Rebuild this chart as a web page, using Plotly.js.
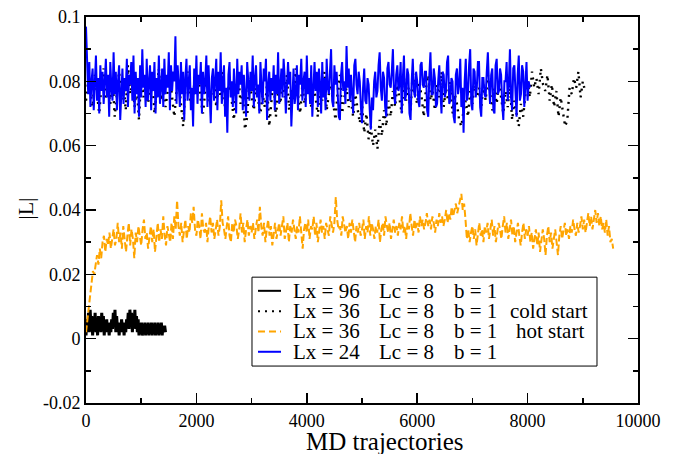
<!DOCTYPE html>
<html>
<head>
<meta charset="utf-8">
<script src="https://cdn.plot.ly/plotly-3.0.1.min.js"></script>
<style>html,body{margin:0;padding:0;background:#fff;}#chart{width:684px;height:454px;}</style>
</head>
<body>
<div id="chart"></div>
<script>
// ---- data ----
const stepLx96 = 15;
const lx96 = [
0.001,0.006,0.003,0.008,0.002,0.009,0.004,0.007,0.001,0.006,
0.003,0.008,0.002,0.005,0.001,0.007,0.003,0.006,0.002,0.008,
0.004,0.007,0.001,0.005,0.003,0.006,0.002,0.004,0.001,0.005,
0.002,0.006,0.003,0.008,0.004,0.009,0.002,0.007,0.003,0.005,
0.001,0.004,0.002,0.006,0.003,0.005,0.001,0.004,0.002,0.006,
0.004,0.008,0.003,0.009,0.005,0.008,0.002,0.007,0.004,0.009,
0.003,0.007,0.002,0.006,0.001,0.004,0.002,0.005,0.001,0.003,
0.002,0.005,0.001,0.004,0.002,0.005,0.001,0.004,0.002,0.005,
0.001,0.004,0.002,0.005,0.001,0.004,0.002,0.005,0.001,0.004,
0.002,0.005,0.001,0.004,0.002,0.004,0.002];

const stepCold = 40;
const lx36cold = [
0.074,0.080,0.077,0.072,0.082,0.076,0.070,0.079,0.084,0.075,
0.078,0.073,0.081,0.069,0.077,0.083,0.074,0.079,0.071,0.085,
0.076,0.080,0.072,0.078,0.068,0.082,0.075,0.079,0.073,0.077,
0.081,0.070,0.076,0.084,0.074,0.079,0.072,0.078,0.082,0.075,
0.069,0.077,0.080,0.073,0.066,0.078,0.083,0.075,0.071,0.079,
0.076,0.082,0.074,0.070,0.078,0.084,0.073,0.077,0.081,0.072,
0.079,0.075,0.083,0.071,0.076,0.080,0.074,0.068,0.078,0.082,
0.073,0.077,0.065,0.069,0.080,0.075,0.071,0.078,0.074,0.070,
0.076,0.072,0.079,0.066,0.074,0.081,0.069,0.077,0.073,0.080,
0.075,0.082,0.071,0.078,0.074,0.084,0.076,0.070,0.079,0.073,
0.077,0.081,0.072,0.078,0.075,0.069,0.080,0.074,0.083,0.071,
0.076,0.079,0.073,0.068,0.077,0.082,0.070,0.075,0.078,0.072,
0.074,0.069,0.076,0.071,0.067,0.073,0.064,0.070,0.062,0.066,
0.060,0.065,0.059,0.068,0.063,0.071,0.066,0.074,0.069,0.077,
0.072,0.079,0.075,0.070,0.081,0.074,0.078,0.071,0.083,0.076,
0.073,0.080,0.075,0.069,0.078,0.082,0.074,0.077,0.071,0.079,
0.075,0.083,0.072,0.078,0.074,0.080,0.070,0.076,0.073,0.068,
0.066,0.071,0.074,0.069,0.077,0.073,0.080,0.075,0.078,0.072,
0.079,0.074,0.082,0.076,0.071,0.078,0.073,0.080,0.075,0.070,
0.077,0.072,0.079,0.068,0.074,0.070,0.066,0.073,0.069,0.076,
0.080,0.075,0.083,0.078,0.081,0.076,0.084,0.079,0.077,0.082,
0.074,0.079,0.072,0.077,0.069,0.075,0.070,0.066,0.068,0.078,
0.076,0.081,0.078,0.083,0.075,0.080,0.077];

const stepHot = 25;
const lx36hot = [
0.002,0.006,0.010,0.014,0.018,0.021,0.020,0.024,0.026,0.023,
0.028,0.025,0.030,0.032,0.027,0.031,0.029,0.033,0.028,0.031,
0.034,0.029,0.031,0.036,0.030,0.033,0.028,0.035,0.031,0.027,
0.032,0.036,0.029,0.034,0.031,0.025,0.033,0.030,0.035,0.032,
0.029,0.034,0.037,0.031,0.033,0.028,0.032,0.035,0.030,0.034,
0.027,0.032,0.036,0.030,0.034,0.031,0.038,0.032,0.029,0.035,
0.033,0.030,0.036,0.031,0.038,0.034,0.043,0.035,0.032,0.036,
0.030,0.034,0.037,0.031,0.035,0.033,0.039,0.036,0.041,0.034,
0.032,0.037,0.035,0.031,0.039,0.034,0.033,0.036,0.030,0.035,
0.038,0.033,0.036,0.031,0.034,0.037,0.032,0.035,0.043,0.036,
0.034,0.031,0.035,0.038,0.032,0.030,0.036,0.033,0.037,0.035,
0.031,0.034,0.039,0.033,0.036,0.030,0.034,0.037,0.032,0.035,
0.033,0.036,0.031,0.035,0.037,0.033,0.041,0.035,0.032,0.036,
0.030,0.034,0.037,0.032,0.035,0.029,0.033,0.036,0.031,0.034,
0.036,0.032,0.035,0.038,0.031,0.034,0.036,0.030,0.035,0.033,
0.037,0.034,0.031,0.035,0.033,0.038,0.032,0.028,0.034,0.036,
0.033,0.037,0.031,0.035,0.034,0.038,0.032,0.036,0.030,0.034,
0.037,0.033,0.035,0.031,0.036,0.034,0.032,0.038,0.035,0.033,
0.036,0.044,0.037,0.034,0.035,0.032,0.038,0.036,0.033,0.035,
0.031,0.036,0.033,0.037,0.034,0.030,0.035,0.033,0.036,0.032,
0.034,0.037,0.031,0.035,0.033,0.038,0.032,0.036,0.034,0.031,
0.035,0.033,0.037,0.030,0.034,0.036,0.032,0.038,0.035,0.033,
0.036,0.031,0.034,0.037,0.033,0.035,0.032,0.036,0.034,0.038,
0.033,0.035,0.031,0.036,0.034,0.039,0.035,0.032,0.037,0.034,
0.036,0.033,0.038,0.035,0.037,0.034,0.036,0.039,0.035,0.037,
0.034,0.038,0.036,0.033,0.037,0.035,0.039,0.036,0.038,0.035,
0.037,0.040,0.036,0.039,0.037,0.041,0.038,0.040,0.042,0.039,
0.041,0.043,0.045,0.040,0.042,0.037,0.031,0.034,0.030,0.033,
0.035,0.031,0.034,0.029,0.033,0.036,0.032,0.034,0.030,0.035,
0.033,0.036,0.031,0.034,0.037,0.032,0.035,0.030,0.033,0.036,
0.034,0.031,0.035,0.038,0.033,0.036,0.031,0.034,0.037,0.032,
0.035,0.030,0.034,0.036,0.032,0.029,0.033,0.036,0.031,0.034,
0.032,0.035,0.030,0.033,0.028,0.031,0.034,0.029,0.033,0.027,
0.030,0.034,0.031,0.026,0.032,0.035,0.030,0.033,0.028,0.031,
0.034,0.030,0.026,0.032,0.035,0.031,0.033,0.036,0.032,0.034,
0.031,0.035,0.033,0.037,0.034,0.032,0.036,0.033,0.035,0.038,
0.034,0.037,0.033,0.036,0.039,0.035,0.038,0.034,0.037,0.040,
0.036,0.039,0.035,0.038,0.034,0.036,0.033,0.037,0.032,0.035,
0.030,0.031,0.028];

const stepLx24 = 20;
const lx24 = [
0.097,0.083,0.076,0.086,0.072,0.080,0.084,0.071,0.078,0.088,
0.074,0.081,0.070,0.085,0.077,0.083,0.073,0.079,0.087,0.075,
0.082,0.069,0.086,0.078,0.074,0.089,0.076,0.083,0.071,0.080,
0.085,0.068,0.079,0.084,0.073,0.081,0.077,0.087,0.072,0.082,
0.079,0.086,0.074,0.088,0.070,0.083,0.076,0.081,0.069,0.085,
0.075,0.090,0.078,0.082,0.072,0.087,0.074,0.080,0.085,0.071,
0.083,0.077,0.086,0.070,0.081,0.075,0.088,0.073,0.079,0.084,
0.072,0.087,0.076,0.082,0.078,0.089,0.071,0.085,0.077,0.083,
0.080,0.094,0.073,0.085,0.079,0.072,0.086,0.076,0.083,0.068,
0.081,0.087,0.074,0.080,0.085,0.071,0.078,0.066,0.084,0.076,
0.088,0.073,0.082,0.079,0.086,0.070,0.083,0.076,0.080,0.088,
0.072,0.085,0.078,0.067,0.081,0.084,0.074,0.079,0.087,0.071,
0.083,0.077,0.089,0.073,0.080,0.085,0.069,0.078,0.064,0.082,
0.086,0.075,0.080,0.072,0.084,0.078,0.070,0.087,0.076,0.083,
0.079,0.085,0.071,0.082,0.076,0.069,0.086,0.080,0.074,0.083,
0.077,0.088,0.072,0.081,0.085,0.075,0.079,0.070,0.086,0.078,
0.073,0.084,0.080,0.087,0.068,0.079,0.083,0.074,0.081,0.077,
0.085,0.071,0.082,0.076,0.089,0.073,0.080,0.084,0.075,0.087,
0.081,0.070,0.078,0.086,0.079,0.083,0.066,0.077,0.084,0.073,
0.076,0.085,0.071,0.082,0.079,0.087,0.074,0.080,0.083,0.072,
0.088,0.076,0.081,0.073,0.085,0.069,0.080,0.086,0.077,0.083,
0.072,0.084,0.079,0.070,0.086,0.075,0.081,0.071,0.087,0.078,
0.076,0.083,0.090,0.074,0.072,0.085,0.079,0.083,0.075,0.069,
0.068,0.082,0.086,0.077,0.080,0.073,0.091,0.078,0.084,0.074,
0.082,0.076,0.070,0.085,0.087,0.079,0.076,0.083,0.080,0.072,
0.067,0.078,0.084,0.074,0.073,0.081,0.079,0.071,0.065,0.075,
0.071,0.080,0.083,0.075,0.077,0.085,0.089,0.078,0.074,0.083,
0.081,0.072,0.069,0.084,0.086,0.079,0.078,0.083,0.090,0.076,
0.073,0.082,0.085,0.077,0.079,0.086,0.070,0.081,0.088,0.074,
0.076,0.084,0.082,0.070,0.068,0.080,0.087,0.077,0.075,0.083,
0.080,0.074,0.072,0.085,0.086,0.079,0.078,0.083,0.083,0.071,
0.069,0.082,0.089,0.076,0.076,0.084,0.081,0.072,0.073,0.080,
0.085,0.077,0.070,0.083,0.082,0.075,0.077,0.086,0.088,0.073,
0.074,0.081,0.080,0.069,0.067,0.082,0.084,0.076,0.079,0.087,
0.072,0.078,0.064,0.080,0.087,0.074,0.076,0.085,0.090,0.073,
0.071,0.084,0.083,0.075,0.078,0.086,0.086,0.072,0.069,0.081,
0.081,0.076,0.075,0.083,0.089,0.079,0.073,0.082,0.084,0.071,
0.070,0.085,0.087,0.076,0.077,0.084,0.082,0.073,0.068,0.080,
0.080,0.086,0.074,0.079,0.090,0.075,0.071,0.084,0.085,0.077,
0.069,0.082,0.088,0.074,0.076,0.085,0.083,0.072,0.079,0.086,
0.074,0.080,0.078];

const xTickVals = [0,2000,4000,6000,8000,10000];
const xTickText = ['0','2000','4000','6000','8000','10000'];
const yTickVals = [-0.02,0,0.02,0.04,0.06,0.08,0.1];
const yTickText = ['-0.02','0','0.02','0.04','0.06','0.08','0.1'];

const legLx = ['Lx = 96','Lx = 36','Lx = 36','Lx = 24'];
const legLc = ['Lc = 8','Lc = 8','Lc = 8','Lc = 8'];
const legB  = ['b = 1','b = 1','b = 1','b = 1'];
const legNote = ['','cold start','hot start',''];

const xTitle = 'MD trajectories';
const yTitle = '|L|';

// ---- build ----
const xs = (arr, step) => arr.map((_, i) => i * step);
const FONT = 'Liberation Serif';

const styles = [
  {color:'#000000', width:3,   dash:'solid'},
  {color:'#000000', width:2.4, dash:'2px,5px'},
  {color:'#ffa500', width:2,   dash:'7px,3px'},
  {color:'#0000ff', width:2,   dash:'solid'}
];

const traces = [
  {x: xs(lx96, stepLx96), y: lx96, type:'scatter', mode:'lines', line: styles[0], showlegend:false, hoverinfo:'skip'},
  {x: xs(lx36cold, stepCold), y: lx36cold, type:'scatter', mode:'lines', line: styles[1], showlegend:false, hoverinfo:'skip'},
  {x: xs(lx36hot, stepHot), y: lx36hot, type:'scatter', mode:'lines', line: styles[2], showlegend:false, hoverinfo:'skip'},
  {x: xs(lx24, stepLx24), y: lx24, type:'scatter', mode:'lines', line: styles[3], showlegend:false, hoverinfo:'skip'}
];

// custom legend (paper coordinates)
const legRows = [0.2906, 0.2380, 0.1855, 0.1327];
const shapes = [{type:'rect', xref:'paper', yref:'paper', x0:0.3007, x1:0.9257, y0:0.0957, y1:0.326,
  fillcolor:'#ffffff', line:{color:'#000000', width:1}, layer:'above'}];
const annotations = [];
const legStyleDash = ['solid','2px,5px','7px,4px','solid'];
legRows.forEach((yy, i) => {
  shapes.push({type:'line', xref:'paper', yref:'paper', x0:0.3116, x1:0.3533, y0:yy, y1:yy,
    line:{color:styles[i].color, width:2, dash:legStyleDash[i]}, layer:'above'});
  const txt = (t, x) => annotations.push({xref:'paper', yref:'paper', x:x, y:yy, text:t, showarrow:false,
    xanchor:'left', yanchor:'middle', borderpad:0, font:{family:FONT, size:21, color:'#000'}});
  txt(legLx[i], 0.3727);
  txt(legLc[i], 0.5290);
  txt(legB[i], 0.6649);
  if (legNote[i]) txt(legNote[i], i === 1 ? 0.7663 : 0.7772);
});
annotations.push({xref:'paper', yref:'paper', x:0.5417, y:-0.0985, text:xTitle, showarrow:false,
  xanchor:'center', yanchor:'middle', borderpad:0, font:{family:FONT, size:25, color:'#000'}});
annotations.push({xref:'paper', yref:'paper', x:-0.1096, y:0.502, text:yTitle, showarrow:false, textangle:-90,
  xanchor:'center', yanchor:'middle', font:{family:FONT, size:22, color:'#000'}});

const axisCommon = {
  showgrid:false, zeroline:false, showline:true, linecolor:'#000', linewidth:2, mirror:'ticks',
  ticks:'inside', ticklen:10, tickwidth:1.5, tickcolor:'#000',
  tickfont:{family:FONT, size:18, color:'#000'}, tickmode:'array'
};

const layout = {
  width:684, height:454,
  margin:{l:86, r:46, t:17, b:51},
  paper_bgcolor:'#fff', plot_bgcolor:'#fff',
  showlegend:false,
  font:{family:FONT},
  xaxis: Object.assign({}, axisCommon, {range:[0,10000], tickvals:xTickVals, ticktext:xTickText,
    minor:{ticks:'inside', ticklen:5, tickwidth:1.5, tickcolor:'#000', tick0:0, dtick:1000}}),
  yaxis: Object.assign({}, axisCommon, {range:[-0.02,0.1], tickvals:yTickVals, ticktext:yTickText,
    minor:{ticks:'inside', ticklen:5, tickwidth:1.5, tickcolor:'#000', tick0:0, dtick:0.01}}),
  shapes: shapes,
  annotations: annotations
};

Plotly.newPlot('chart', traces, layout, {staticPlot:true, displayModeBar:false});
</script>
</body>
</html>
